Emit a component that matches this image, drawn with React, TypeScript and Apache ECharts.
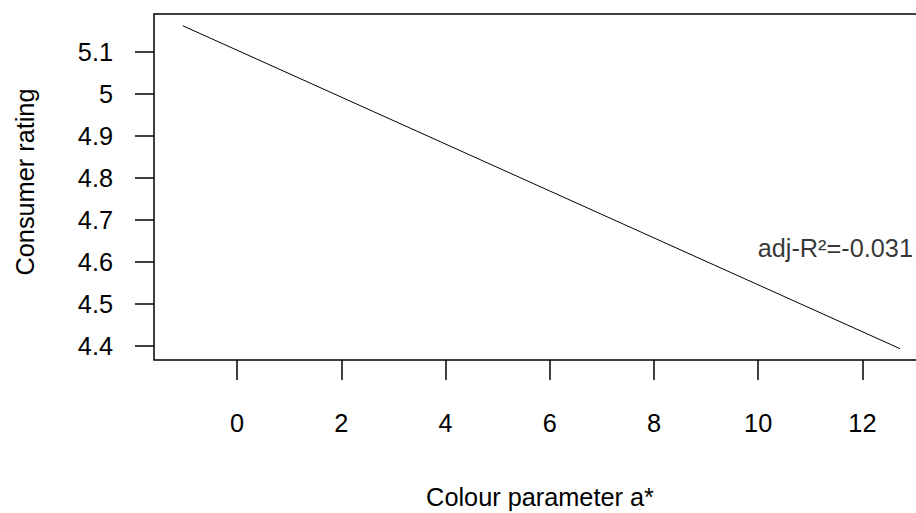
import React, { useEffect, useRef } from "react";
import * as echarts from "echarts";

const lineX = [-1.04, 12.72];
const lineY = [5.162, 4.394];
const yTicks = [4.4, 4.5, 4.6, 4.7, 4.8, 4.9, 5.0, 5.1];
const xTicks = [0, 2, 4, 6, 8, 10, 12];
const annotation = { x: 11.48, y: 4.634, text: "adj-R\u00b2=-0.031" };
const xTitle = "Colour parameter a*";
const yTitle = "Consumer rating";

const FONT = '"Liberation Sans", Arial, Helvetica, sans-serif';
const FS = 25.3;

export default function App() {
  const ref = useRef<HTMLDivElement>(null);
  useEffect(() => {
    if (!ref.current) return;
    const chart = echarts.init(ref.current, null, { renderer: "svg" });
    chart.setOption({
      animation: false,
      backgroundColor: "#ffffff",
      textStyle: { fontFamily: FONT, color: "#000" },
      grid: {
        left: 154,
        top: 14,
        right: -10,
        bottom: 153,
        show: true,
        borderColor: "#000",
        borderWidth: 1.5,
        backgroundColor: "transparent",
        containLabel: false,
        outerBoundsMode: "none",
      },
      xAxis: {
        type: "value",
        min: -1.593,
        max: 13.22,
        axisLine: { show: false, onZero: false },
        splitLine: { show: false },
        axisTick: {
          show: true,
          inside: false,
          length: 20,
          lineStyle: { color: "#000", width: 1.5 },
          customValues: xTicks,
        },
        axisLabel: {
          customValues: xTicks,
          margin: 50,
          fontSize: FS,
          fontFamily: FONT,
          color: "#000",
          formatter: (v: number) => String(v),
        },
      },
      yAxis: {
        type: "value",
        min: 4.367,
        max: 5.19,
        axisLine: { show: false, onZero: false },
        splitLine: { show: false },
        axisTick: {
          show: true,
          inside: false,
          length: 19,
          lineStyle: { color: "#000", width: 1.5 },
          customValues: yTicks,
        },
        axisLabel: {
          customValues: yTicks,
          margin: 41,
          fontSize: FS,
          fontFamily: FONT,
          color: "#000",
          formatter: (v: number) =>
            Math.abs(v - Math.round(v)) < 1e-9 ? String(Math.round(v)) : v.toFixed(1),
        },
      },
      series: [
        {
          type: "line",
          data: lineX.map((x, i) => [x, lineY[i]]),
          symbol: "none",
          lineStyle: { color: "#000", width: 1 },
          silent: true,
        },
        {
          type: "scatter",
          data: [[annotation.x, annotation.y]],
          symbolSize: 0,
          silent: true,
          label: {
            show: true,
            position: "inside",
            formatter: annotation.text,
            fontSize: FS,
            fontFamily: FONT,
            color: "#000",
          },
        },
      ],
      graphic: [
        {
          type: "text",
          x: 540,
          y: 497,
          style: {
            text: xTitle,
            fontSize: FS,
            fontFamily: FONT,
            fill: "#000",
            align: "center",
            verticalAlign: "middle",
          },
        },
        {
          type: "text",
          x: 25,
          y: 182,
          rotation: Math.PI / 2,
          style: {
            text: yTitle,
            fontSize: FS,
            fontFamily: FONT,
            fill: "#000",
            align: "center",
            verticalAlign: "middle",
          },
        },
      ],
    });
    return () => chart.dispose();
  }, []);
  return (
    <div
      ref={ref}
      style={{ position: "fixed", left: 0, top: 0, width: 916, height: 513, background: "#fff" }}
    />
  );
}
